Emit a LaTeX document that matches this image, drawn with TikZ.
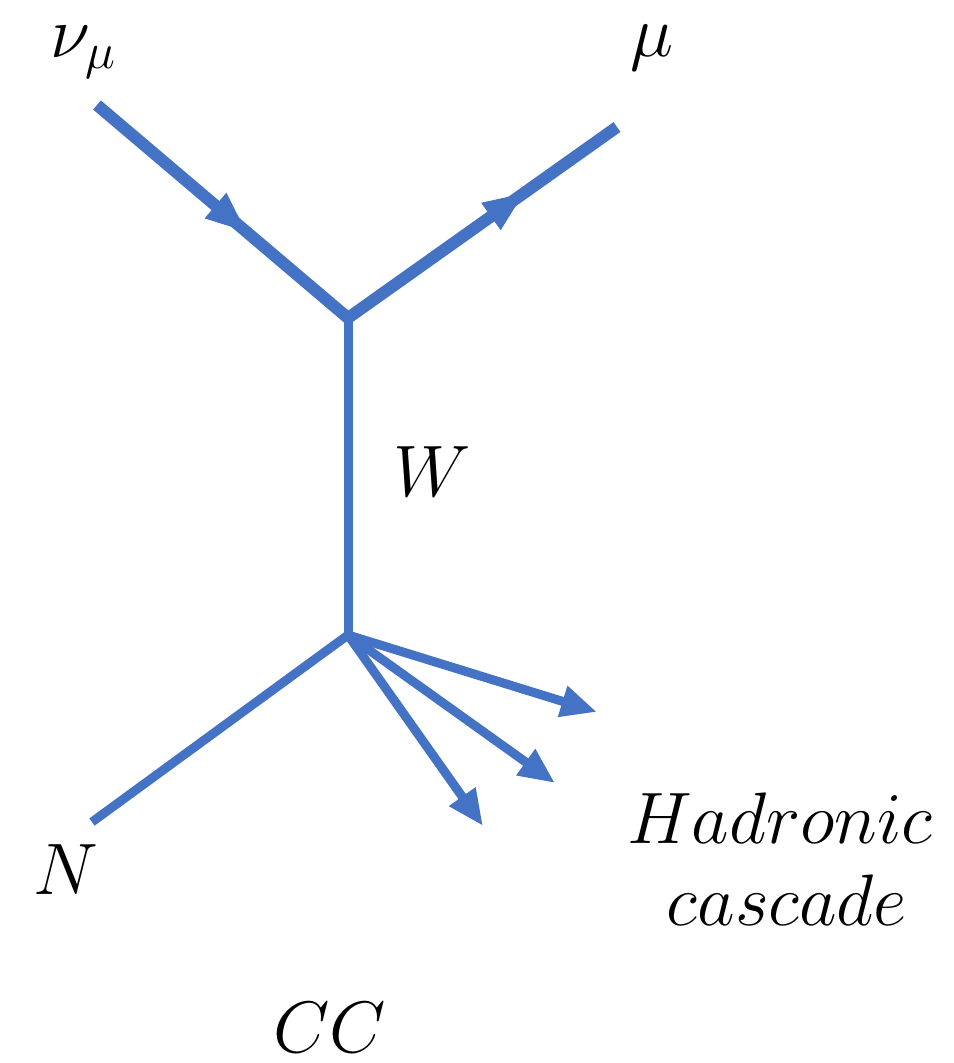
\documentclass[tikz,border=0pt]{standalone}
\usepackage{amsmath,amssymb}
\usepackage{xcolor}
\usepackage{tikz}
\usetikzlibrary{arrows.meta,decorations.markings}

\definecolor{lineblue}{HTML}{4472C4}

\begin{document}
\begin{tikzpicture}[
    x=0.01cm, y=-0.01cm,
    leg/.style={draw=lineblue, line width=0.12cm},
    prop/.style={draw=lineblue, line width=0.09cm},
    midarrow/.style={postaction={decorate}, decoration={markings,
        mark=at position #1 with {\arrow{Triangle[length=0.42cm,width=0.3cm]}}}},
    arrow/.style={-{Triangle[length=0.36cm,width=0.3cm]}, draw=lineblue, line width=0.09cm},
    lbl/.style={font=\fontsize{22}{26}\selectfont, inner sep=0pt}
  ]
  \useasboundingbox (0,0) rectangle (954,1063);

  % vertices and free ends
  \coordinate (top) at (348,318);
  \coordinate (bot) at (348,635);
  \coordinate (nuin) at (97,105);
  \coordinate (muout) at (617,127);
  \coordinate (nucl) at (92,822);
  \coordinate (had1) at (597,712);
  \coordinate (had2) at (555,783);
  \coordinate (had3) at (483,826);

  \draw[leg, midarrow=0.6, fill=lineblue] (nuin) -- (top);
  \draw[leg, midarrow=0.66, fill=lineblue] (top) -- (muout);
  \draw[prop] (top) -- (bot);
  \draw[prop] (nucl) -- (bot);

  \draw[arrow] (bot) -- (had1);
  \draw[arrow] (bot) -- (had2);
  \draw[arrow] (bot) -- (had3);

  \node[lbl] (numu)  at (84,52)   {$\nu_\mu$};
  \node[lbl] (mu)    at (652,48)  {$\mu$};
  \node[lbl] (wlbl)  at (432,472) {$W$};
  \node[lbl] (nlbl)  at (66,870)  {$N$};
  \node[lbl] (hadr)  at (780,818) {$Hadronic$};
  \node[lbl] (casc)  at (787,900) {$cascade$};
  \node[lbl] (cc)    at (330,1028) {$CC$};
\end{tikzpicture}
\end{document}
